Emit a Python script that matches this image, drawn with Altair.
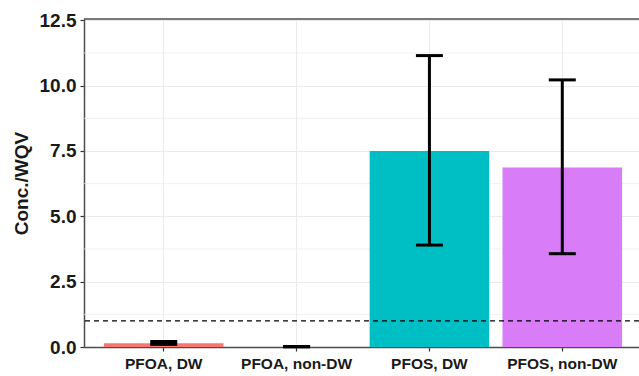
import altair as alt
import pandas as pd

categories = ["PFOA, DW", "PFOA, non-DW", "PFOS, DW", "PFOS, non-DW"]
means = [0.14, 0.003, 7.5, 6.87]
lower = [0.10, 0.005, 3.90, 3.57]
upper = [0.21, 0.02, 11.15, 10.22]
colors = ["#F8766D", "#7CAE00", "#00BFC4", "#D87CF8"]
wqv = [1.0]
major_ticks = [0, 2.5, 5, 7.5, 10, 12.5]
minor_ticks = [1.25, 3.75, 6.25, 8.75, 11.25]

df = pd.DataFrame({"cat": categories, "mean": means, "lo": lower, "hi": upper})
minor_df = pd.DataFrame({"v": minor_ticks})
wqv_df = pd.DataFrame({"v": wqv})

FONT = "Liberation Sans"
xscale = alt.Scale(paddingInner=0.1, paddingOuter=0.15, range=[0, 558])
yscale = alt.Scale(domain=[0, 12.55], nice=False, zero=True)
YT = "Conc./WQV"
yaxis = alt.Axis(values=major_ticks, format=".1f", title=YT)
xaxis = alt.Axis(labelAngle=0, grid=True, bandPosition=0.5, title=None)


def X():
    return alt.X("cat:N", sort=categories, scale=xscale, axis=xaxis)


def Y(f):
    return alt.Y(f, scale=yscale, axis=yaxis)


minor = alt.Chart(minor_df).mark_rule(color="#EBEBEB", strokeWidth=0.7).encode(y=Y("v:Q"))

bars = alt.Chart(df).mark_bar(opacity=1).encode(
    x=X(),
    y=Y("mean:Q"),
    color=alt.Color("cat:N", scale=alt.Scale(domain=categories, range=colors), legend=None),
)

dash = alt.Chart(wqv_df).mark_rule(color="black", strokeWidth=1.2, strokeDash=[5, 4]).encode(y=Y("v:Q"))

err = alt.Chart(df).mark_rule(color="black", strokeWidth=3, opacity=1).encode(x=X(), y=Y("lo:Q"), y2="hi:Q")
cap_lo = alt.Chart(df).mark_tick(color="black", thickness=3, size=27, opacity=1).encode(x=X(), y=Y("lo:Q"))
cap_hi = alt.Chart(df).mark_tick(color="black", thickness=3, size=27, opacity=1).encode(x=X(), y=Y("hi:Q"))

top = alt.Chart(wqv_df).mark_rule(color="#4d4d4d", strokeWidth=1.5).encode(
    x=alt.value(0), x2=alt.value(558), y=alt.value(0)
)

chart = alt.layer(minor, bars, dash, err, cap_lo, cap_hi, top).properties(
    width=555,
    height=328,
    autosize=alt.AutoSizeParams(type="none"),
    padding={"left": 84, "top": 19, "right": 0, "bottom": 29},
).configure_view(stroke=None).configure_axis(
    labelFont=FONT, titleFont=FONT, labelFontWeight="bold", titleFontWeight="bold",
    labelColor="#1a1a1a", titleColor="#1a1a1a",
    gridColor="#EBEBEB", gridWidth=1,
    domainColor="#4d4d4d", domainWidth=1.5,
    tickColor="#333333", tickSize=4, tickWidth=1.2,
).configure_axisY(
    labelFontSize=19, titleFontSize=19, labelPadding=4, titlePadding=8,
).configure_axisX(
    labelFontSize=15.5, labelPadding=5,
)

chart.save("out.html", embed_options={"renderer": "svg", "actions": False})
